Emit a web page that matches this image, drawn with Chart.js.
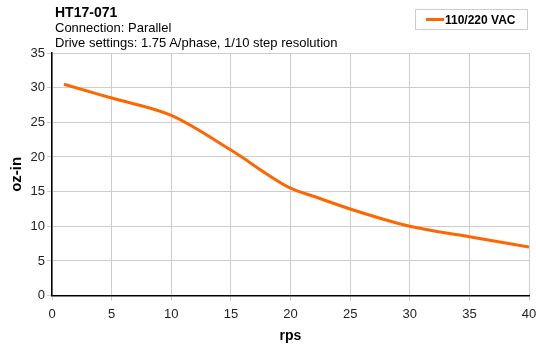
<!DOCTYPE html>
<html>
<head>
<meta charset="utf-8">
<script src="https://cdn.jsdelivr.net/npm/chart.js@4"></script>
<style>
    html, body { margin: 0; padding: 0; background: #fff; }
    #wrap { position: relative; width: 536px; height: 346px; font-family: "Liberation Sans", Arial, sans-serif; }
    #head { position: absolute; left: 55px; top: 5px; color: #000; line-height: 15px; font-size: 13px; }
    #head b { font-size: 14px; }
    #legend { position: absolute; left: 415px; top: 9px; width: 113px; height: 21px; border: 1px solid #ccc;
              font-size: 12px; font-weight: bold; line-height: 20px; box-sizing: border-box; }
    #legend span.sw { display: inline-block; width: 18px; height: 3px; background: #ff6600; vertical-align: middle;
                      margin: 0 1px 2px 10px; }
</style>
</head>
<body>
<div id="wrap">
    <canvas id="chart" width="536" height="346"></canvas>
    <div id="head">
        <b>HT17-071</b><br>
        Connection: Parallel<br>
        Drive settings: 1.75 A/phase, 1/10 step resolution
    </div>
    <div id="legend"><span class="sw"></span>110/220 VAC</div>
</div>
<script>
// speed (rps) vs torque (oz-in)
const speeds = [1, 5, 10, 15, 20, 22, 25, 30, 35, 40];
const torque = [30.5, 28.5, 26, 21, 15.5, 14.3, 12.5, 10, 8.5, 7];
const seriesLabel = "110/220 VAC";

const FONT = "'Liberation Sans', Arial, sans-serif";
const GRID = "rgb(204, 204, 204)";

const ctx = document.getElementById("chart").getContext("2d");
new Chart(ctx, {
    type: "line",
    data: {
        datasets: [{
            label: seriesLabel,
            data: speeds.map((s, i) => ({ x: s, y: torque[i] })),
            borderColor: "#ff6600",
            borderWidth: 3,
            pointRadius: 0,
            cubicInterpolationMode: "monotone",
            fill: false,
        }],
    },
    options: {
        responsive: false,
        animation: false,
        layout: { padding: { top: 53, left: 6, right: 0, bottom: 1 } },
        plugins: {
            legend: { display: false },
            tooltip: { enabled: false },
        },
        scales: {
            x: {
                type: "linear",
                min: 0,
                max: 40,
                afterFit: (scale) => { scale.paddingLeft = 0; scale.paddingRight = 7; },
                ticks: { stepSize: 5, color: "#222", font: { size: 13, family: FONT }, padding: 6 },
                grid: { color: GRID, tickLength: 5, tickColor: GRID },
                border: { color: "#000", width: 1.5 },
                title: { display: true, text: "rps", color: "#000", font: { size: 14, weight: "bold", family: FONT }, padding: { top: 0, bottom: 0 } },
            },
            y: {
                min: 0,
                max: 35,
                afterFit: (scale) => { scale.width = 46; },
                ticks: { stepSize: 5, color: "#222", font: { size: 13, family: FONT }, padding: 2 },
                grid: { color: GRID, tickLength: 5, tickColor: GRID },
                border: { color: "#000", width: 1.5 },
                title: { display: true, text: "oz-in", color: "#000", font: { size: 15, weight: "bold", family: FONT }, padding: { top: 2, bottom: 2 } },
            },
        },
    },
});
</script>
</body>
</html>
